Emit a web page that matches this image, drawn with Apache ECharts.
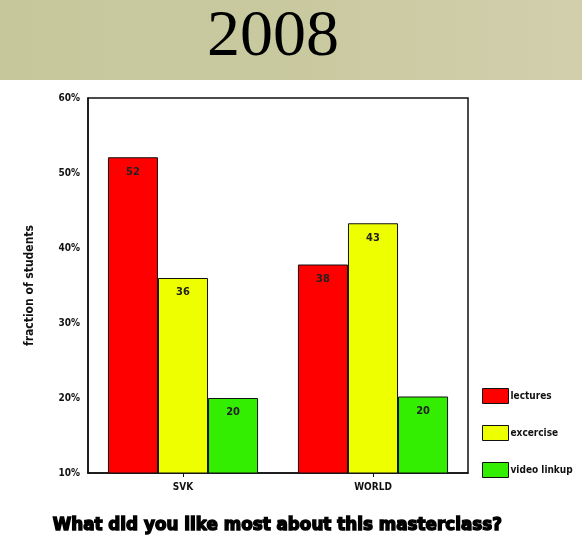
<!DOCTYPE html>
<html>
<head>
<meta charset="utf-8">
<script src="https://cdn.jsdelivr.net/npm/echarts@6/dist/echarts.min.js"></script>
<style>html,body{margin:0;padding:0;background:#fff;}#c{width:582px;height:541px;}</style>
</head>
<body>
<div id="c"></div>
<script>
var categories = ['SVK', 'WORLD'];
var lectures = [52.1, 37.8];
var excercise = [36, 43.3];
var videoLinkup = [20, 20.2];
var yTicks = [10, 20, 30, 40, 50, 60];
var seriesNames = ['lectures', 'excercise', 'video linkup'];

var colors = ['#ff0000', '#eeff00', '#33ee00'];
var chart = echarts.init(document.getElementById('c'), null, {renderer: 'canvas'});
function mk(name, data, color) {
  return {
    name: name, type: 'bar', data: data, barGap: '0%', barCategoryGap: '21%',
    itemStyle: {color: color, borderColor: '#111', borderWidth: 1},
    label: {show: true, position: 'insideTop', distance: 9, color: '#222',
      fontFamily: 'DejaVu Sans Condensed', fontWeight: 'bold', fontSize: 11,
      formatter: function (p) { return Math.round(p.value); }}
  };
}
chart.setOption({
  animation: false,
  backgroundColor: '#fff',
  graphic: [
    {type: 'rect', shape: {x: 0, y: 0, width: 582, height: 80}, silent: true,
      style: {fill: {type: 'linear', x: 0, y: 0, x2: 1, y2: 0, colorStops: [
        {offset: 0, color: '#c6c89c'}, {offset: 0.5, color: '#c9c99f'}, {offset: 1, color: '#d2cfad'}]}}},
    {type: 'text', left: 207, top: 5, silent: true,
      style: {text: '2008', font: '66px "Liberation Serif"', fill: '#000'}},
    {type: 'text', left: 52, top: 516, silent: true,
      style: {text: 'What did you like most about this masterclass?', font: 'bold 16.8px "DejaVu Sans"', fill: '#000', stroke: '#000', lineWidth: 1.4}},
    {type: 'rect', shape: {x: 88, y: 98, width: 380, height: 375}, silent: true, z: 0,
      style: {fill: 'none', stroke: '#111', lineWidth: 1.5}}
  ],
  legend: {
    orient: 'vertical', left: 477, top: 383, itemWidth: 26, itemHeight: 15, itemGap: 21,
    icon: 'rect',
    data: seriesNames,
    textStyle: {fontFamily: 'DejaVu Sans Condensed', fontWeight: 'bold', fontSize: 10, color: '#111', padding: [0, 0, 0, -3]},
    itemStyle: {borderColor: '#111', borderWidth: 1}
  },
  grid: {left: 88, top: 98, right: 114, bottom: 68, containLabel: false},
  xAxis: {
    type: 'category', data: categories,
    axisLine: {lineStyle: {color: '#111', width: 1.5}},
    axisTick: {show: true, alignWithLabel: true, length: 4, lineStyle: {color: '#111'}},
    axisLabel: {color: '#111', fontFamily: 'DejaVu Sans Condensed', fontWeight: 'bold', fontSize: 10, margin: 9}
  },
  yAxis: {
    type: 'value', min: yTicks[0], max: yTicks[yTicks.length - 1], interval: 10,
    name: 'fraction of students', nameLocation: 'middle', nameGap: 52, nameRotate: 90,
    nameTextStyle: {color: '#111', fontFamily: 'DejaVu Sans Condensed', fontWeight: 'bold', fontSize: 12},
    axisLine: {show: true, lineStyle: {color: '#111', width: 1.5}},
    axisTick: {show: false},
    splitLine: {show: false},
    axisLabel: {color: '#111', fontFamily: 'DejaVu Sans Condensed', fontWeight: 'bold', fontSize: 10, margin: 8,
      formatter: '{value}%'}
  },
  series: [mk(seriesNames[0], lectures, colors[0]), mk(seriesNames[1], excercise, colors[1]), mk(seriesNames[2], videoLinkup, colors[2])]
});
</script>
</body>
</html>
